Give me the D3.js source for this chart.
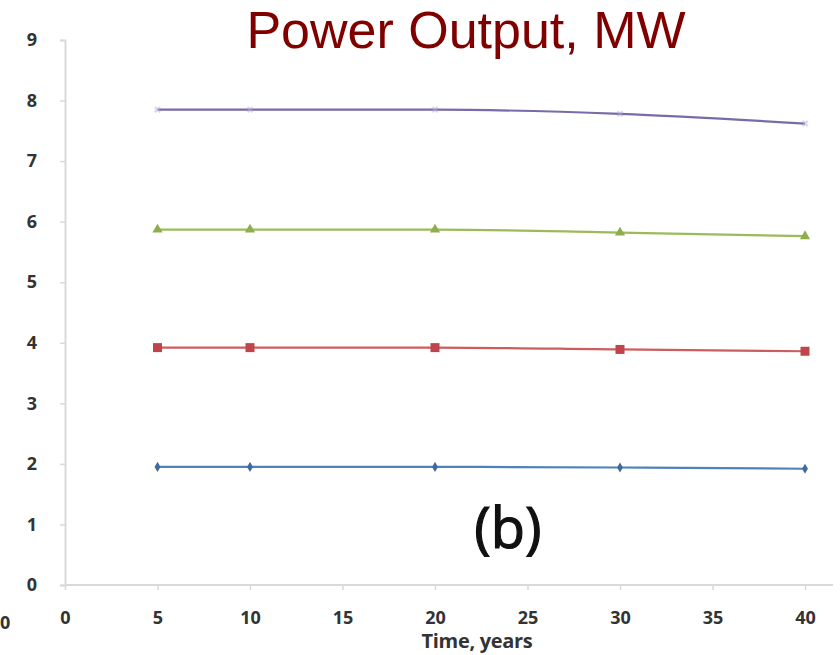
<!DOCTYPE html>
<html><head><meta charset="utf-8">
<script src="https://cdn.jsdelivr.net/npm/d3@7"></script>
<style>body{margin:0;background:#fff}svg{display:block}</style>
</head><body>
<svg id="c" width="840" height="655"></svg>
<script>
const years = [5, 10, 20, 30, 40];
const seriesPurple = [7.85, 7.85, 7.85, 7.78, 7.62];
const seriesGreen = [5.87, 5.87, 5.87, 5.82, 5.76];
const seriesRed = [3.92, 3.92, 3.92, 3.89, 3.86];
const seriesBlue = [1.95, 1.95, 1.95, 1.94, 1.92];
const xTicks = [0, 5, 10, 15, 20, 25, 30, 35, 40];
const yTicks = [0, 1, 2, 3, 4, 5, 6, 7, 8, 9];
const titleText = "Power Output, MW";
const xLabel = "Time, years";
const panelLabel = "(b)";
const edgeLabel = "0";

const series = [
  {name: "purple", values: seriesPurple, color: "#7a6aa8", marker: "x"},
  {name: "green", values: seriesGreen, color: "#9bbb59", marker: "tri"},
  {name: "red", values: seriesRed, color: "#cd5c5c", marker: "sq"},
  {name: "blue", values: seriesBlue, color: "#4f81bd", marker: "dia"}
];

const svg = d3.select("#c");
const x = d3.scaleLinear().domain([0, 40]).range([65, 805]);
const y = d3.scaleLinear().domain([0, 9]).range([585, 40]);

// y axis
const ya = svg.append("g").attr("transform", "translate(65,0)")
  .call(d3.axisLeft(y).tickValues(yTicks).tickSize(5).tickPadding(21).tickFormat(d3.format("d")));
ya.select(".domain").attr("stroke", "#d9d9d9").attr("stroke-width", 2);
ya.selectAll(".tick line").attr("stroke", "#d9d9d9").attr("stroke-width", 1.5);
ya.selectAll(".tick text").attr("fill", "#333").attr("text-anchor", "middle").attr("dx", "-0.4em")
  .style("font", "bold 18px 'Open Sans'");

// x axis
const xa = svg.append("g").attr("transform", "translate(0,585)")
  .call(d3.axisBottom(x).tickValues(xTicks).tickSize(5).tickPadding(21).tickFormat(d3.format("d")));
xa.select(".domain").attr("d", "M65,0H833").attr("stroke", "#d9d9d9").attr("stroke-width", 2);
xa.selectAll(".tick line").attr("stroke", "#d9d9d9").attr("stroke-width", 1.5);
xa.selectAll(".tick text").attr("fill", "#333").style("font", "bold 18px 'Open Sans'");

// label at left edge
svg.append("text").attr("x", 0).attr("y", 629).attr("text-anchor", "start")
  .attr("fill", "#333").style("font", "bold 18px 'Open Sans'").text(edgeLabel);

const line = d3.line().x((d, i) => x(years[i])).y(d => y(d)).curve(d3.curveMonotoneX);

series.forEach(s => {
  const g = svg.append("g");
  g.append("path").attr("d", line(s.values)).attr("fill", "none")
    .attr("stroke", s.color).attr("stroke-width", 2.2);
  s.values.forEach((v, i) => {
    const cx = x(years[i]), cy = y(v);
    if (s.marker === "tri") {
      g.append("path").attr("d", d3.symbol(d3.symbolTriangle, 45)())
        .attr("transform", `translate(${cx},${cy})`).attr("fill", "#8fad4c");
    } else if (s.marker === "sq") {
      g.append("rect").attr("x", cx - 4.5).attr("y", cy - 4.5).attr("width", 9).attr("height", 9)
        .attr("fill", "#c0454a");
    } else if (s.marker === "dia") {
      g.append("path").attr("d", d3.symbol(d3.symbolDiamond, 30)())
        .attr("transform", `translate(${cx},${cy})`).attr("fill", "#3f6aa0");
    } else {
      g.append("path").attr("d", d3.symbol(d3.symbolCross, 30)())
        .attr("transform", `translate(${cx},${cy}) rotate(45)`).attr("fill", "#b8b0d8").attr("opacity", 0.5);
    }
  });
});

svg.append("text").attr("x", 466).attr("y", 48).attr("text-anchor", "middle")
  .attr("fill", "#800000").style("font", "52px 'Liberation Sans'").text(titleText);

svg.append("text").attr("x", 508).attr("y", 548).attr("text-anchor", "middle")
  .attr("fill", "#111").attr("stroke", "#111").attr("stroke-width", 1.2)
  .style("font", "400 56px 'Open Sans'").text(panelLabel);

svg.append("text").attr("x", 477).attr("y", 648).attr("text-anchor", "middle")
  .attr("fill", "#333").style("font", "bold 20px 'Open Sans'").style("letter-spacing", "-0.3px").text(xLabel);
</script>
</body></html>
